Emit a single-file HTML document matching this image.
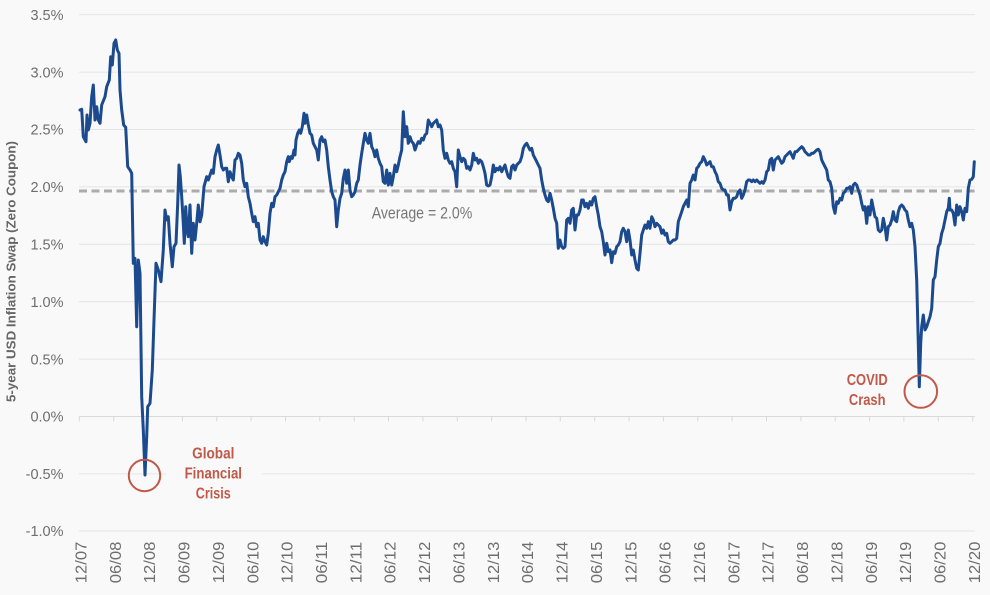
<!DOCTYPE html>
<html>
<head>
<meta charset="utf-8">
<style>
  html, body { margin:0; padding:0; background:#f9f9f9; }
  svg { display:block; }
  text { font-family: "Liberation Sans", "DejaVu Sans", sans-serif; }
</style>
</head>
<body>
<svg width="990" height="595" viewBox="0 0 990 595" xmlns="http://www.w3.org/2000/svg">
  <rect x="0" y="0" width="990" height="595" fill="#f9f9f9"/>

  <!-- gridlines -->
  <g stroke="#e4e4e4" stroke-width="1">
    <line x1="79" y1="14.6" x2="975" y2="14.6"/>
    <line x1="79" y1="72.1" x2="975" y2="72.1"/>
    <line x1="79" y1="129.5" x2="975" y2="129.5"/>
    <line x1="79" y1="186.9" x2="975" y2="186.9"/>
    <line x1="79" y1="244.3" x2="975" y2="244.3"/>
    <line x1="79" y1="301.7" x2="975" y2="301.7"/>
    <line x1="79" y1="359.1" x2="975" y2="359.1"/>
    <line x1="79" y1="473.9" x2="975" y2="473.9"/>
    <line x1="79" y1="531.0" x2="975" y2="531.0"/>
  </g>
  <!-- zero axis with ticks -->
  <g stroke="#d9d9d9" stroke-width="1">
    <line x1="79" y1="416.5" x2="975" y2="416.5"/>
    <line x1="79.3" y1="416.5" x2="79.3" y2="421.5"/>
    <line x1="113.7" y1="416.5" x2="113.7" y2="421.5"/>
    <line x1="148.0" y1="416.5" x2="148.0" y2="421.5"/>
    <line x1="182.4" y1="416.5" x2="182.4" y2="421.5"/>
    <line x1="216.7" y1="416.5" x2="216.7" y2="421.5"/>
    <line x1="251.1" y1="416.5" x2="251.1" y2="421.5"/>
    <line x1="285.5" y1="416.5" x2="285.5" y2="421.5"/>
    <line x1="319.8" y1="416.5" x2="319.8" y2="421.5"/>
    <line x1="354.2" y1="416.5" x2="354.2" y2="421.5"/>
    <line x1="388.5" y1="416.5" x2="388.5" y2="421.5"/>
    <line x1="422.9" y1="416.5" x2="422.9" y2="421.5"/>
    <line x1="457.3" y1="416.5" x2="457.3" y2="421.5"/>
    <line x1="491.6" y1="416.5" x2="491.6" y2="421.5"/>
    <line x1="526.0" y1="416.5" x2="526.0" y2="421.5"/>
    <line x1="560.3" y1="416.5" x2="560.3" y2="421.5"/>
    <line x1="594.7" y1="416.5" x2="594.7" y2="421.5"/>
    <line x1="629.1" y1="416.5" x2="629.1" y2="421.5"/>
    <line x1="663.4" y1="416.5" x2="663.4" y2="421.5"/>
    <line x1="697.8" y1="416.5" x2="697.8" y2="421.5"/>
    <line x1="732.1" y1="416.5" x2="732.1" y2="421.5"/>
    <line x1="766.5" y1="416.5" x2="766.5" y2="421.5"/>
    <line x1="800.9" y1="416.5" x2="800.9" y2="421.5"/>
    <line x1="835.2" y1="416.5" x2="835.2" y2="421.5"/>
    <line x1="869.6" y1="416.5" x2="869.6" y2="421.5"/>
    <line x1="903.9" y1="416.5" x2="903.9" y2="421.5"/>
    <line x1="938.3" y1="416.5" x2="938.3" y2="421.5"/>
    <line x1="972.7" y1="416.5" x2="972.7" y2="421.5"/>
  </g>

  <!-- y tick labels -->
  <g fill="#6e6e6e" font-size="14.5" text-anchor="end">
    <text x="63.5" y="19.8">3.5%</text>
    <text x="63.5" y="77.3">3.0%</text>
    <text x="63.5" y="134.7">2.5%</text>
    <text x="63.5" y="192.1">2.0%</text>
    <text x="63.5" y="249.5">1.5%</text>
    <text x="63.5" y="306.9">1.0%</text>
    <text x="63.5" y="364.3">0.5%</text>
    <text x="63.5" y="421.7">0.0%</text>
    <text x="63.5" y="479.1">-0.5%</text>
    <text x="63.5" y="536.2">-1.0%</text>
  </g>

  <!-- y axis title -->
  <text transform="translate(15.5,271.5) rotate(-90)" text-anchor="middle" font-size="12.5" font-weight="bold" fill="#666666" textLength="261" lengthAdjust="spacingAndGlyphs">5-year USD Inflation Swap (Zero Coupon)</text>

  <!-- x tick labels -->
  <g fill="#6e6e6e" font-size="16" text-anchor="end">
    <text transform="translate(86.5,541.7) rotate(-90)" textLength="41.5" lengthAdjust="spacingAndGlyphs">12/07</text>
    <text transform="translate(120.9,541.7) rotate(-90)" textLength="41.5" lengthAdjust="spacingAndGlyphs">06/08</text>
    <text transform="translate(155.2,541.7) rotate(-90)" textLength="41.5" lengthAdjust="spacingAndGlyphs">12/08</text>
    <text transform="translate(189.6,541.7) rotate(-90)" textLength="41.5" lengthAdjust="spacingAndGlyphs">06/09</text>
    <text transform="translate(223.9,541.7) rotate(-90)" textLength="41.5" lengthAdjust="spacingAndGlyphs">12/09</text>
    <text transform="translate(258.3,541.7) rotate(-90)" textLength="41.5" lengthAdjust="spacingAndGlyphs">06/10</text>
    <text transform="translate(292.7,541.7) rotate(-90)" textLength="41.5" lengthAdjust="spacingAndGlyphs">12/10</text>
    <text transform="translate(327.0,541.7) rotate(-90)" textLength="41.5" lengthAdjust="spacingAndGlyphs">06/11</text>
    <text transform="translate(361.4,541.7) rotate(-90)" textLength="41.5" lengthAdjust="spacingAndGlyphs">12/11</text>
    <text transform="translate(395.7,541.7) rotate(-90)" textLength="41.5" lengthAdjust="spacingAndGlyphs">06/12</text>
    <text transform="translate(430.1,541.7) rotate(-90)" textLength="41.5" lengthAdjust="spacingAndGlyphs">12/12</text>
    <text transform="translate(464.5,541.7) rotate(-90)" textLength="41.5" lengthAdjust="spacingAndGlyphs">06/13</text>
    <text transform="translate(498.8,541.7) rotate(-90)" textLength="41.5" lengthAdjust="spacingAndGlyphs">12/13</text>
    <text transform="translate(533.2,541.7) rotate(-90)" textLength="41.5" lengthAdjust="spacingAndGlyphs">06/14</text>
    <text transform="translate(567.5,541.7) rotate(-90)" textLength="41.5" lengthAdjust="spacingAndGlyphs">12/14</text>
    <text transform="translate(601.9,541.7) rotate(-90)" textLength="41.5" lengthAdjust="spacingAndGlyphs">06/15</text>
    <text transform="translate(636.3,541.7) rotate(-90)" textLength="41.5" lengthAdjust="spacingAndGlyphs">12/15</text>
    <text transform="translate(670.6,541.7) rotate(-90)" textLength="41.5" lengthAdjust="spacingAndGlyphs">06/16</text>
    <text transform="translate(705.0,541.7) rotate(-90)" textLength="41.5" lengthAdjust="spacingAndGlyphs">12/16</text>
    <text transform="translate(739.3,541.7) rotate(-90)" textLength="41.5" lengthAdjust="spacingAndGlyphs">06/17</text>
    <text transform="translate(773.7,541.7) rotate(-90)" textLength="41.5" lengthAdjust="spacingAndGlyphs">12/17</text>
    <text transform="translate(808.1,541.7) rotate(-90)" textLength="41.5" lengthAdjust="spacingAndGlyphs">06/18</text>
    <text transform="translate(842.4,541.7) rotate(-90)" textLength="41.5" lengthAdjust="spacingAndGlyphs">12/18</text>
    <text transform="translate(876.8,541.7) rotate(-90)" textLength="41.5" lengthAdjust="spacingAndGlyphs">06/19</text>
    <text transform="translate(911.1,541.7) rotate(-90)" textLength="41.5" lengthAdjust="spacingAndGlyphs">12/19</text>
    <text transform="translate(945.5,541.7) rotate(-90)" textLength="41.5" lengthAdjust="spacingAndGlyphs">06/20</text>
    <text transform="translate(979.9,541.7) rotate(-90)" textLength="41.5" lengthAdjust="spacingAndGlyphs">12/20</text>
  </g>

  <!-- average dashed line -->
  <line x1="79" y1="191" x2="975" y2="191" stroke="#ababab" stroke-width="3" stroke-dasharray="8 4.5"/>
  <text x="371.7" y="218.3" font-size="17" fill="#777777" textLength="100.6" lengthAdjust="spacingAndGlyphs">Average = 2.0%</text>

  <!-- GFC label background (hides gridline) -->
  <rect x="166" y="440" width="96" height="64" fill="#f9f9f9"/>

  <!-- series -->
  <polyline fill="none" stroke="#1b4a8e" stroke-width="3" stroke-linejoin="round" stroke-linecap="round" points="
80,110 81.7,109.3 83.3,136.7 85,140 86,141.7 87,115 88.3,130 90,123.3 91.7,96.7 93.3,85 95,120 96.7,106.7 98.3,120 100,123.3 101.7,105 105,96.7 106.7,86.7 109.3,80 110.7,56.7 112.3,65 114,43.3 115.7,40 117.3,50 119,53.3 120,90 121.7,110 123.7,125 125.7,127.3 127.7,166.7 130,170 131.7,173.3 133.3,263.3 135,258.3 136.7,326.7 138.3,260 140,273.3 141.7,396.7 143.3,430 145,475 146.7,436.7 147.7,406.7 150,403.3 152.3,370 154,320 156,263.3 158.3,270 161,281.7 163.3,250 165,210 166.7,220 168.3,216.7 170,243.3 172.3,266.7 174,246.7 176,243.3 177.7,203.3 179,165 180.3,176.7 181.7,196.7 183.3,223.3 184.3,243.3 185.7,206.7 187,230 188.3,236.7 190,205 191.7,253.3 193.3,223.3 195,240 196.7,223.3 198.3,205 200,221.7 201.7,215 204,186.7 206.7,176.7 208.3,180 210,175 211.7,170 213.3,173.3 215,156.7 216.7,150 218.3,145 220,155 221.7,166.7 223.3,170 225,168.3 226.7,168.3 228.3,181.7 230,171.7 231.7,176.7 233.3,180 235,160 236.7,158.3 238.3,153.3 240,155 241.7,163.3 243.3,180 245,186.7 246.7,183.3 248.3,196.7 250,203.3 251.7,213.3 253.3,221.7
255,216.7 256.7,226.7 258.3,223.3 260,240 261.7,243.3 263.3,236.7 265,241.7 266.7,245 268.3,233.3 270,213.3 271.7,203.3 273.3,206.7 275,196.7 276.7,195 278.3,191.7 280,188.3 281.7,180 283.3,175 285,171.7 286.7,161.7 288.3,156.7 289.3,161.7 291,156.7 292.3,158.3 294,150 295,155 296,140 297.7,133.3 299.3,130 300.7,133.3 302.3,126.7 304,113.3 305,123.3 306.7,115 308.3,125 310,133.3 311.7,135 313.3,143.3 315,146.7 316.7,150 318.3,160 320,140 321.7,136.7 323.3,141.7 325,140 326.7,150 328.3,166.7 330,180 331.7,191.7 333.3,196.7 335,200 336.7,226.7 338.3,210 340,198.3 341.7,193.3 343.3,178.3 345,170 346.7,183.3 348.3,170 350,190 351.7,196.7 353.3,195 355,191.7 356.7,183.3 358.3,180 360,165 361.7,153.3 363.3,143.3 365,133.3 366.7,140 368.3,143.3 370,133.3 371.7,146.7 373.3,150 375,156.7 376.7,150 378.3,158.3 380,163.3 381.7,166.7 383.3,181.7 385,183.3 386.7,170 388.3,185 390,173.3 391.7,185 393.3,176.7 395,165 396.7,171.7 398.3,165 400,156.7 401.7,150 403.3,111.7 405,136.7 406.7,126.7 408.3,143.3 410,136.7 411.7,141.7 413.3,143.3 415,150 416.7,145 418.3,141.7 420,143.3 421.7,138.3 423.3,140 425,135 426.7,133.3 428.3,120 430,123.3 431.7,126.7 433.3,123.3 435,121.7 436.7,120 438.3,126.7
440,125 441.7,130 443.3,150 445,158.3 446.7,153.3 448.3,160 450,163.3 451.7,161.7 453.3,168.3 455,171.7 456.7,186.7 458.3,150 460,156.7 461.7,161.7 463.3,158.3 465,160 466.7,168.3 468.3,166.7 470,170 471.7,165 473.3,153.3 475,160 476.7,158.3 478.3,163.3 480,160 481.7,161.7 483.3,166.7 485,173.3 486.7,185 488.3,186 490,185 491.7,176.7 493.3,165 495,171.7 496.7,168.3 498.3,170 500,166.7 501.7,171.7 503.3,168.3 505,165 506.7,171.7 508.3,176.7 510,178.3 511.7,166.7 513.3,165 515,170 516.7,165 518.3,163.3 520,161.7 521.7,156.7 523.3,148.3 525,145 526.7,143.3 528.3,146.7 530,150 531.7,148.3 533.3,155 535,158.3 536.7,161.7 538.3,165 540,168.3 541.7,180 543.3,188.3 545,195 546.7,200 548.3,201.7 550,193.3 551.7,200 553.3,208.3 555,218.3 556.7,223.3 558.3,248.3 560,240 561.7,246.7 563.3,248.3 565,246.7 566.7,220 568.3,218.3 570,223.3 571.7,210 573.3,208.3 575,230 576.7,215 578.3,215 580,210 581.7,200 583.3,200 585,206.7 586.7,203.3 588.3,208.3 590,201.7 591.7,205 593.3,198.3 595,196.7 596.7,206.7 598.3,215 600,226.7 601.7,231.7 603.3,241.7 605,255 606.7,243.3 608.3,251.7 610,250 611.7,262.7 613.3,251.7 615,253.3 616.7,246.7 618.3,245 620,241.7 621.7,231.7 623.3,228.3
625,231.7 626.7,241.7 628.3,230 630,240 631.7,255 633.3,250 635,260 636.7,268.3 638.3,270 640,253.3 641.7,235 643.3,230 645,225 646.7,228.3 648.3,221.7 650,228.3 651.7,216.7 653.3,220 655,226.7 656.7,223.3 658.3,225 660,226.7 661.7,233.3 663.3,230 665,235 666.7,233.3 668.3,241.7 670,243.3 671.7,241.7 673.3,240 675,240 676.7,238.3 678.3,221.7 680,216.7 681.7,211.7 683.3,206.7 685,203.3 686.7,200 688.3,206.7 690,183.3 691.7,180 693.3,175 695,180 696.7,168.3 698.3,166.7 700,163.3 701.7,161.7 703.3,156.7 705,160 706.7,165 708.3,163.3 710,161.7 711.7,166.7 713.3,166.7 715,171.7 716.7,175 718.3,181.7 720,183.3 721.7,188.3 723.3,190 725,190 726.7,195 728.3,195 730,210 731.7,201.7 733.3,198.3 735,198.3 736.7,196.7 738.3,191.7 740,190 741.7,198.3 743.3,195 745,190 746.7,181.7 748.3,180 750,180 751.7,181.7 753.3,180 755,181.7 756.7,180 758.3,181.7 760,183.3 761.7,181.7 763.3,183.3 765,180 766.7,171.7 768.3,170 770,160 771.7,158.3 773.3,170 775,160 776.7,158.3 778.3,156.7 780,160 781.7,163.3 783.3,161.7 785,156.7 786.7,155 788.3,153.3 790,151.7 791.7,155 793.3,158.3 795,151.7 796.7,151.7 798.3,150 800,148.3 801.7,146.7 803.3,148.3 805,151.7 806.7,153.3 808.3,155
810,155 811.7,153.3 813.3,153.3 815,151.7 816.7,150 818.3,149.3 820,151.7 821.7,160 823.3,163.3 825,166.7 826.7,170 828.3,180 830,181.7 831.7,188.3 833.3,206.7 835,213.3 836.7,201.7 838.3,203.3 840,198.3 841.7,200 843.3,193.3 845,191.7 846.7,188.3 848.3,188.3 850,186.7 851.7,193.3 853.3,185 855,183.3 856.7,185 858.3,190 860,195 861.7,203.3 863.3,210 865,206.7 866.7,223.3 868.3,206.7 870,215 871.7,200 873.3,208.3 875,216.7 876.7,218.3 878.3,230 880,231.7 881.7,230 883.3,218.3 885,226.7 886.7,240 888.3,226.7 890,225 891.7,220 893.3,211.7 895,220 896.7,221.7 898.3,211.7 900,206.7 901.7,205 903.3,206.7 905,210 906.7,211.7 908.3,220 910,226.7 911.7,223.3 913.3,230 915,246.7 916.7,280 918.3,343.3 919.3,386.7 920.7,343.3 921.7,326.7 923.3,315 925,330 926.7,326.7 928.3,321.7 930,316.7 931.7,308.3 933.3,280 935,276.7 936.7,260 938.3,246.7 940,243.3 941.7,233.3 943.3,228.3 945,220 946.7,211.7 948.3,208.3 949.3,198.3 950,210 951.7,210 953.3,213.3 955,225 956.7,205 958.3,215 960,206.7 961.7,211.7 963.3,220 965,208.3 966.7,211.7 968.3,188.3 970,180 971.7,179.3 973.3,176.7 974.3,161.7"/>

  <!-- annotations -->
  <circle cx="144.5" cy="475.5" r="15.7" fill="none" stroke="#c0594a" stroke-width="2"/>
  <circle cx="920.8" cy="391.5" r="16.3" fill="none" stroke="#c0594a" stroke-width="2"/>
  <g fill="#c0594a" font-size="16" font-weight="bold" text-anchor="middle">
    <text x="213.3" y="458.3" textLength="42.3" lengthAdjust="spacingAndGlyphs">Global</text>
    <text x="213.3" y="478.3" textLength="57.4" lengthAdjust="spacingAndGlyphs">Financial</text>
    <text x="213.3" y="498.3" textLength="35" lengthAdjust="spacingAndGlyphs">Crisis</text>
    <text x="867.2" y="385" textLength="41" lengthAdjust="spacingAndGlyphs">COVID</text>
    <text x="867.2" y="405" textLength="36.7" lengthAdjust="spacingAndGlyphs">Crash</text>
  </g>
</svg>
</body>
</html>
